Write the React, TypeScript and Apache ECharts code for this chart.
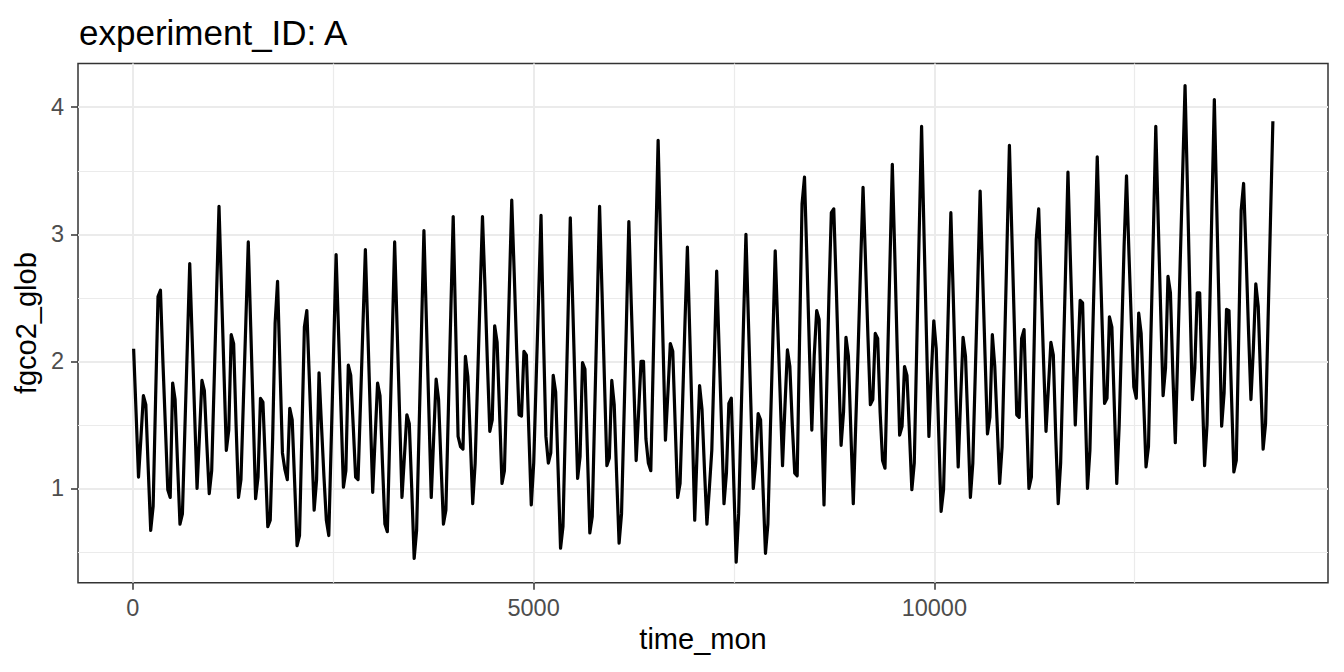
import React, { useEffect, useRef } from "react";
import * as echarts from "echarts";

// Monthly global fgco2 (12 values per year)
const fgco2Years1to10 = [
  2.10, 1.60, 1.09, 1.40, 1.73, 1.66, 1.15, 0.67, 0.86, 1.70, 2.51, 2.56,
  2.00, 1.50, 0.99, 0.93, 1.83, 1.70, 1.20, 0.72, 0.80, 1.46, 2.11, 2.77,
  2.18, 1.59, 1.00, 1.42, 1.85, 1.77, 1.35, 0.96, 1.14, 1.83, 2.53, 3.22,
  2.58, 1.94, 1.30, 1.46, 2.21, 2.14, 1.50, 0.93, 1.07, 1.69, 2.31, 2.94,
  2.27, 1.60, 0.92, 1.09, 1.71, 1.68, 1.20, 0.70, 0.75, 1.40, 2.30, 2.63,
  1.95, 1.28, 1.15, 1.07, 1.63, 1.54, 1.05, 0.55, 0.63, 1.45, 2.27, 2.40,
  1.88, 1.35, 0.83, 1.07, 1.91, 1.50, 1.10, 0.75, 0.63, 1.37, 2.10, 2.84,
  2.23, 1.62, 1.01, 1.14, 1.97, 1.89, 1.50, 1.09, 1.07, 1.67, 2.28, 2.88,
  2.24, 1.60, 0.97, 1.40, 1.83, 1.73, 1.20, 0.72, 0.66, 1.42, 2.18, 2.94,
  2.27, 1.60, 0.93, 1.25, 1.58, 1.51, 1.00, 0.45, 0.67, 1.45, 2.24, 3.03,
];
const fgco2Years11to20 = [
  2.33, 1.63, 0.93, 1.40, 1.86, 1.70, 1.20, 0.72, 0.83, 1.60, 2.37, 3.14,
  2.28, 1.41, 1.33, 1.31, 2.04, 1.88, 1.40, 0.88, 1.20, 1.85, 2.50, 3.14,
  2.60, 2.00, 1.45, 1.54, 2.28, 2.15, 1.60, 1.04, 1.14, 1.85, 2.56, 3.27,
  2.70, 2.10, 1.58, 1.57, 2.08, 2.05, 1.45, 0.87, 1.20, 1.85, 2.50, 3.15,
  2.20, 1.41, 1.20, 1.28, 1.89, 1.76, 1.15, 0.53, 0.70, 1.50, 2.30, 3.13,
  2.45, 1.75, 1.08, 1.25, 1.99, 1.94, 1.30, 0.65, 0.78, 1.60, 2.40, 3.22,
  2.55, 1.85, 1.18, 1.24, 1.85, 1.66, 1.10, 0.57, 0.80, 1.55, 2.30, 3.10,
  2.45, 1.85, 1.22, 1.60, 2.00, 2.00, 1.39, 1.20, 1.14, 2.00, 2.90, 3.74,
  2.95, 2.15, 1.38, 1.75, 2.14, 2.08, 1.50, 0.93, 1.04, 1.65, 2.30, 2.90,
  2.20, 1.50, 0.75, 1.30, 1.81, 1.62, 1.15, 0.72, 1.00, 1.30, 2.00, 2.71,
];
const fgco2Years21to30 = [
  2.10, 1.50, 0.88, 1.12, 1.67, 1.71, 1.05, 0.42, 0.80, 1.55, 2.30, 3.00,
  2.33, 1.67, 1.00, 1.20, 1.59, 1.54, 1.00, 0.49, 0.72, 1.45, 2.15, 2.87,
  2.30, 1.75, 1.18, 1.65, 2.09, 1.96, 1.50, 1.12, 1.10, 2.20, 3.24, 3.45,
  2.80, 2.10, 1.46, 2.05, 2.40, 2.33, 1.60, 0.87, 1.70, 2.50, 3.17, 3.20,
  2.60, 1.95, 1.34, 1.60, 2.19, 2.04, 1.45, 0.88, 1.50, 2.10, 2.75, 3.37,
  2.80, 2.20, 1.66, 1.70, 2.22, 2.18, 1.60, 1.22, 1.16, 1.95, 2.75, 3.55,
  2.85, 2.10, 1.42, 1.49, 1.96, 1.89, 1.45, 0.99, 1.20, 2.10, 3.00, 3.85,
  3.00, 2.20, 1.41, 1.90, 2.32, 2.10, 1.45, 0.82, 0.99, 1.70, 2.45, 3.17,
  2.50, 1.80, 1.17, 1.70, 2.19, 2.04, 1.50, 0.93, 1.20, 1.90, 2.60, 3.34,
  2.70, 2.05, 1.43, 1.56, 2.21, 1.96, 1.50, 1.04, 1.33, 2.10, 2.90, 3.70,
];
const fgco2Years31to39 = [
  3.00, 2.30, 1.58, 1.56, 2.18, 2.25, 1.60, 1.00, 1.09, 2.00, 2.96, 3.20,
  2.60, 2.00, 1.45, 1.80, 2.15, 2.05, 1.40, 0.88, 1.20, 1.95, 2.70, 3.49,
  2.80, 2.15, 1.50, 2.00, 2.48, 2.46, 1.70, 1.00, 1.30, 2.10, 2.85, 3.61,
  2.95, 2.30, 1.67, 1.71, 2.35, 2.27, 1.65, 1.04, 1.50, 2.20, 2.90, 3.46,
  2.85, 2.30, 1.80, 1.71, 2.38, 2.22, 1.70, 1.17, 1.33, 2.20, 3.00, 3.85,
  3.10, 2.40, 1.73, 1.95, 2.67, 2.54, 1.90, 1.36, 2.06, 2.77, 3.47, 4.17,
  3.35, 2.50, 1.70, 1.95, 2.54, 2.54, 1.80, 1.18, 1.50, 2.30, 3.20, 4.06,
  3.20, 2.35, 1.49, 1.75, 2.41, 2.40, 1.75, 1.13, 1.22, 2.20, 3.19, 3.40,
  2.85, 2.25, 1.70, 2.10, 2.61, 2.43, 1.85, 1.31, 1.51, 2.30, 3.10, 3.89,
];

// Time grid: monthly samples, in days (time_mon)
const startDay = 10;
const stepDays = 30.4375;

const xTickValues = [0, 5000, 10000];
const yTickValues = [1, 2, 3, 4];

const titleText = "experiment_ID: A";
const xName = "time_mon";
const yName = "fgco2_glob";

const FONT = "'Liberation Sans', Arial, Helvetica, sans-serif";

export default function App() {
  const ref = useRef<HTMLDivElement>(null);

  useEffect(() => {
    if (!ref.current) return;
    const chart = echarts.init(ref.current, undefined, { renderer: "svg" });

    const values = [
      ...fgco2Years1to10,
      ...fgco2Years11to20,
      ...fgco2Years21to30,
      ...fgco2Years31to39,
    ];
    const data = values.map((v, i) => [startDay + i * stepDays, v]);

    const option: any = {
      animation: false,
      backgroundColor: "#ffffff",
      title: {
        text: titleText,
        left: 74,
        top: 10,
        textStyle: {
          fontFamily: FONT,
          fontSize: 35,
          fontWeight: "normal",
          color: "#000000",
        },
      },
      grid: {
        left: 78,
        top: 63.5,
        width: 1250,
        height: 519.3,
        show: true,
        borderColor: "#333333",
        borderWidth: 1.5,
        backgroundColor: "#ffffff",
        containLabel: false,
      },
      xAxis: {
        type: "value",
        min: -684,
        max: 14912,
        splitNumber: 3,
        name: xName,
        nameLocation: "middle",
        nameGap: 38,
        nameTextStyle: { fontFamily: FONT, fontSize: 29, color: "#000000" },
        axisLine: { show: false, onZero: false },
        axisTick: {
          show: true,
          length: 7,
          customValues: xTickValues,
          lineStyle: { color: "#333333", width: 1.5 },
        },
        axisLabel: {
          customValues: xTickValues,
          formatter: (v: number) => String(v),
          margin: 13,
          fontFamily: FONT,
          fontSize: 23.5,
          color: "#4D4D4D",
        },
        splitLine: { show: true, lineStyle: { color: "#EBEBEB", width: 2 } },
        minorTick: { show: false, splitNumber: 2 },
        minorSplitLine: { show: true, lineStyle: { color: "#EBEBEB", width: 1.2 } },
      },
      yAxis: {
        type: "value",
        min: 0.258,
        max: 4.344,
        splitNumber: 4,
        name: yName,
        nameLocation: "middle",
        nameGap: 36,
        nameTextStyle: { fontFamily: FONT, fontSize: 29, color: "#000000" },
        axisLine: { show: false, onZero: false },
        axisTick: {
          show: true,
          length: 7,
          customValues: yTickValues,
          lineStyle: { color: "#333333", width: 1.5 },
        },
        axisLabel: {
          customValues: yTickValues,
          formatter: (v: number) => String(v),
          margin: 14,
          fontFamily: FONT,
          fontSize: 23.5,
          color: "#4D4D4D",
        },
        splitLine: { show: true, lineStyle: { color: "#EBEBEB", width: 2 } },
        minorTick: { show: false, splitNumber: 2 },
        minorSplitLine: { show: true, lineStyle: { color: "#EBEBEB", width: 1.2 } },
      },
      series: [
        {
          type: "line",
          data,
          showSymbol: false,
          symbol: "none",
          lineStyle: { color: "#000000", width: 3.2, join: "round" },
          z: 3,
        },
      ],
    };

    chart.setOption(option);
    return () => chart.dispose();
  }, []);

  return (
    <div
      ref={ref}
      style={{ position: "absolute", left: 0, top: 0, width: 1344, height: 672 }}
    />
  );
}
